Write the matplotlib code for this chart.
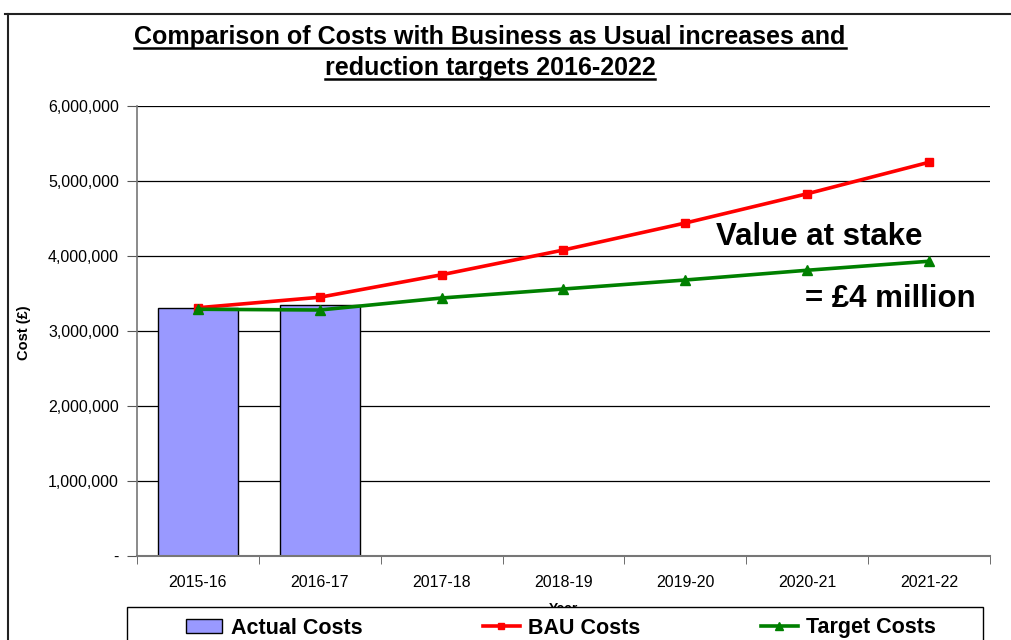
import matplotlib
matplotlib.use("Agg")
import matplotlib.pyplot as plt
from matplotlib.lines import Line2D
from matplotlib.patches import Rectangle
from matplotlib.ticker import FuncFormatter
import numpy as np

plt.rcParams['font.family'] = ['Liberation Sans', 'DejaVu Sans']

years = ["2015-16", "2016-17", "2017-18", "2018-19", "2019-20", "2020-21", "2021-22"]
actual_costs = [3310000, 3350000]
bau_costs = [3310000, 3450000, 3750000, 4080000, 4440000, 4830000, 5250000]
target_costs = [3290000, 3280000, 3440000, 3560000, 3680000, 3810000, 3930000]
title_lines = ["Comparison of Costs with Business as Usual increases and",
               "reduction targets 2016-2022"]

W, H = 1012, 640
fig = plt.figure(figsize=(W / 100, H / 100), dpi=100)
ax = fig.add_axes([137 / W, 1 - 556 / H, (990 - 137) / W, (556 - 106) / H])

x = np.arange(len(years))
bars = ax.bar(x[:len(actual_costs)], actual_costs, width=0.66, color="#9999FF",
              edgecolor="black", linewidth=1.0, zorder=2, label="Actual Costs")
l1, = ax.plot(x, bau_costs, color="#FF0000", lw=2.6, marker="s", ms=6, zorder=4,
              label="BAU Costs")
l2, = ax.plot(x, target_costs, color="#008000", lw=2.6, marker="^", ms=7, zorder=5,
              label="Target Costs")

ax.set_xlim(-0.5, len(years) - 0.5)
ax.set_ylim(0, 6000000)
ax.set_yticks(np.arange(0, 6000001, 1000000))
ax.yaxis.set_major_formatter(FuncFormatter(lambda v, p: "-" if v == 0 else f"{int(v):,}"))
ax.set_xticks(x)
ax.set_xticklabels(years)
ax.set_xticks(np.arange(-0.5, len(years), 1), minor=True)
ax.tick_params(axis="x", which="major", length=0, pad=14, labelsize=11.5)
ax.tick_params(axis="x", which="minor", length=6, color="#555555", direction="out")
ax.tick_params(axis="y", length=7, color="#555555", labelsize=11.5, pad=6)
ax.yaxis.grid(True, color="black", lw=0.9, zorder=1)
ax.set_axisbelow(True)
for s in ["top", "right"]:
    ax.spines[s].set_visible(False)
ax.spines["left"].set_color("#777777")
ax.spines["bottom"].set_color("#777777")
ax.spines["bottom"].set_linewidth(1.5)
ax.spines["left"].set_linewidth(1.2)

fig.text(24 / W, 1 - 333 / H, "Cost (£)", rotation=90, fontsize=10.5,
         fontweight="bold", ha="center", va="center")
fig.text(563 / W, 1 - 609 / H, "Year", fontsize=10, fontweight="bold",
         ha="center", va="center", zorder=1)

fig.text(819 / W, 1 - 237 / H, "Value at stake", fontsize=22.5, fontweight="bold",
         ha="center", va="center")
fig.text(890 / W, 1 - 299 / H, "= £4 million", fontsize=22.5, fontweight="bold",
         ha="center", va="center")

# title with underline
title_texts = []
for i, line in enumerate(title_lines):
    t = fig.text(490 / W, 1 - (44 + 31 * i) / H, line, fontsize=18,
                 fontweight="bold", ha="center", va="baseline")
    title_texts.append(t)
fig.canvas.draw()
r = fig.canvas.get_renderer()
for i, t in enumerate(title_texts):
    bb = t.get_window_extent(r)
    yline = H - (47.5 + 31 * i)
    fig.add_artist(Line2D([bb.x0 / W, bb.x1 / W], [yline / H, yline / H],
                          color="black", lw=1.8, transform=fig.transFigure))

# chart frame (top and left)
fig.add_artist(Line2D([5 / W, 1], [1 - 14 / H, 1 - 14 / H], color="#222222", lw=1.5,
                      transform=fig.transFigure))
fig.add_artist(Line2D([8 / W, 8 / W], [0, 1 - 14 / H], color="#222222", lw=1.5,
                      transform=fig.transFigure))

# legend box
fig.add_artist(Rectangle((127 / W, -0.05), (983 - 127) / W, (0.05 + 1 - 607 / H),
                         transform=fig.transFigure, facecolor="white",
                         edgecolor="black", lw=1.0, zorder=9))
leg = fig.legend([bars, l1, l2], ["Actual Costs", "BAU Costs", "Target Costs"],
                 loc="center", bbox_to_anchor=(561 / W, 1 - 628 / H), ncol=3,
                 prop={"weight": "bold", "size": 15.5}, frameon=False,
                 borderaxespad=0, columnspacing=5.6, markerscale=0.8,
                 handlelength=1.7, handleheight=0.6, handletextpad=0.4, borderpad=0)
leg.set_zorder(10)

fig.savefig("out.png", dpi=100)
